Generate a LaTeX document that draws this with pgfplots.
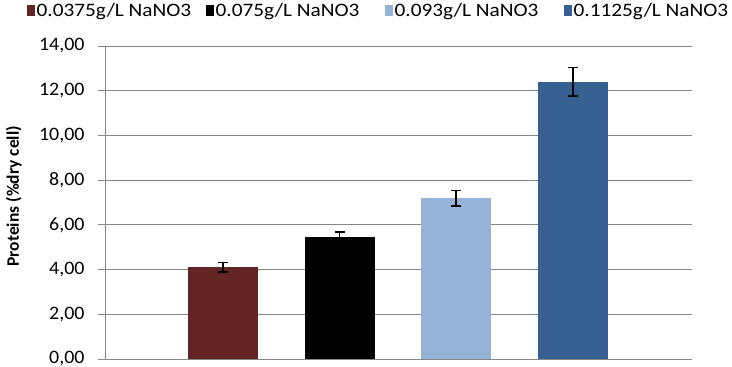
\documentclass[border=0pt]{standalone}
\usepackage{fontspec}
\setmainfont{Carlito}
\newfontfamily\legfont[FakeStretch=1.12]{Carlito}
\newfontfamily\tickfont[FakeStretch=1.05]{Carlito}
\usepackage{pgfplots}
\pgfplotsset{compat=1.18}
\definecolor{c1}{HTML}{632523}
\definecolor{c2}{HTML}{000000}
\definecolor{c3}{HTML}{95B3D7}
\definecolor{c4}{HTML}{366092}
\definecolor{gridc}{HTML}{868686}
\newcommand{\legbox}[1]{\makebox[157pt][l]{#1}}
\begin{document}
\begin{tikzpicture}
\useasboundingbox (-105pt,-8pt) rectangle (627pt,359pt);
\begin{axis}[
  at={(0,0)}, anchor=south west,
  scale only axis, width=587pt, height=313pt,
  xmin=-0.01, xmax=5.02,
  ymin=0, ymax=14,
  ytick={0,2,...,14},
  xtick=\empty,
  axis x line*=bottom, axis y line*=left,
  axis line style={gridc, line width=0.9pt},
  ymajorgrids, grid style={gridc, line width=0.9pt},
  tick align=outside, major tick length=7pt,
  ytick style={gridc, line width=0.9pt},
  /pgf/number format/.cd, fixed, fixed zerofill, precision=2, use comma, assume math mode=true,
  /pgfplots/.cd,
  yticklabel style={font=\tickfont\fontsize{19}{21}\selectfont, text=black, xshift=-10pt},
  ylabel={Proteins (\%dry cell)},
  ylabel style={font=\bfseries\fontsize{17.5}{19}\selectfont, at={(axis description cs:-0.1555,0.52)}, anchor=center},
  legend columns=4,
  legend style={draw=none, fill=none, at={(axis description cs:-0.1329,1.112)}, anchor=west, inner sep=0pt,
    font=\legfont\fontsize{19}{21}\selectfont,
    /tikz/every even column/.append style={column sep=12pt},
    /tikz/every odd column/.append style={column sep=1pt},
    nodes={inner sep=0.5pt}},
  legend image code/.code={\fill[#1] (0pt,-5.5pt) rectangle (8pt,5.5pt);},
  error bars/y dir=both, error bars/y explicit,
  error bars/error bar style={black, line width=1.6pt},
  error bars/error mark options={black, rotate=90, mark size=5pt, line width=1.6pt},
]
\addplot[ybar, bar width=70pt, bar shift=0pt, fill=c1, draw=none] coordinates {(1,4.11) +- (0,0.21)};
\addlegendentry{\legbox{0.0375g/L NaNO3}}
\addplot[ybar, bar width=70pt, bar shift=0pt, fill=c2, draw=none] coordinates {(2,5.47) +- (0,0.22)};
\addlegendentry{\legbox{0.075g/L NaNO3}}
\addplot[ybar, bar width=70pt, bar shift=0pt, fill=c3, draw=none] coordinates {(3,7.18) +- (0,0.35)};
\addlegendentry{\legbox{0.093g/L NaNO3}}
\addplot[ybar, bar width=70pt, bar shift=0pt, fill=c4, draw=none] coordinates {(4,12.40) +- (0,0.63)};
\addlegendentry{\legbox{0.1125g/L NaNO3}}
\end{axis}
\end{tikzpicture}
\end{document}
